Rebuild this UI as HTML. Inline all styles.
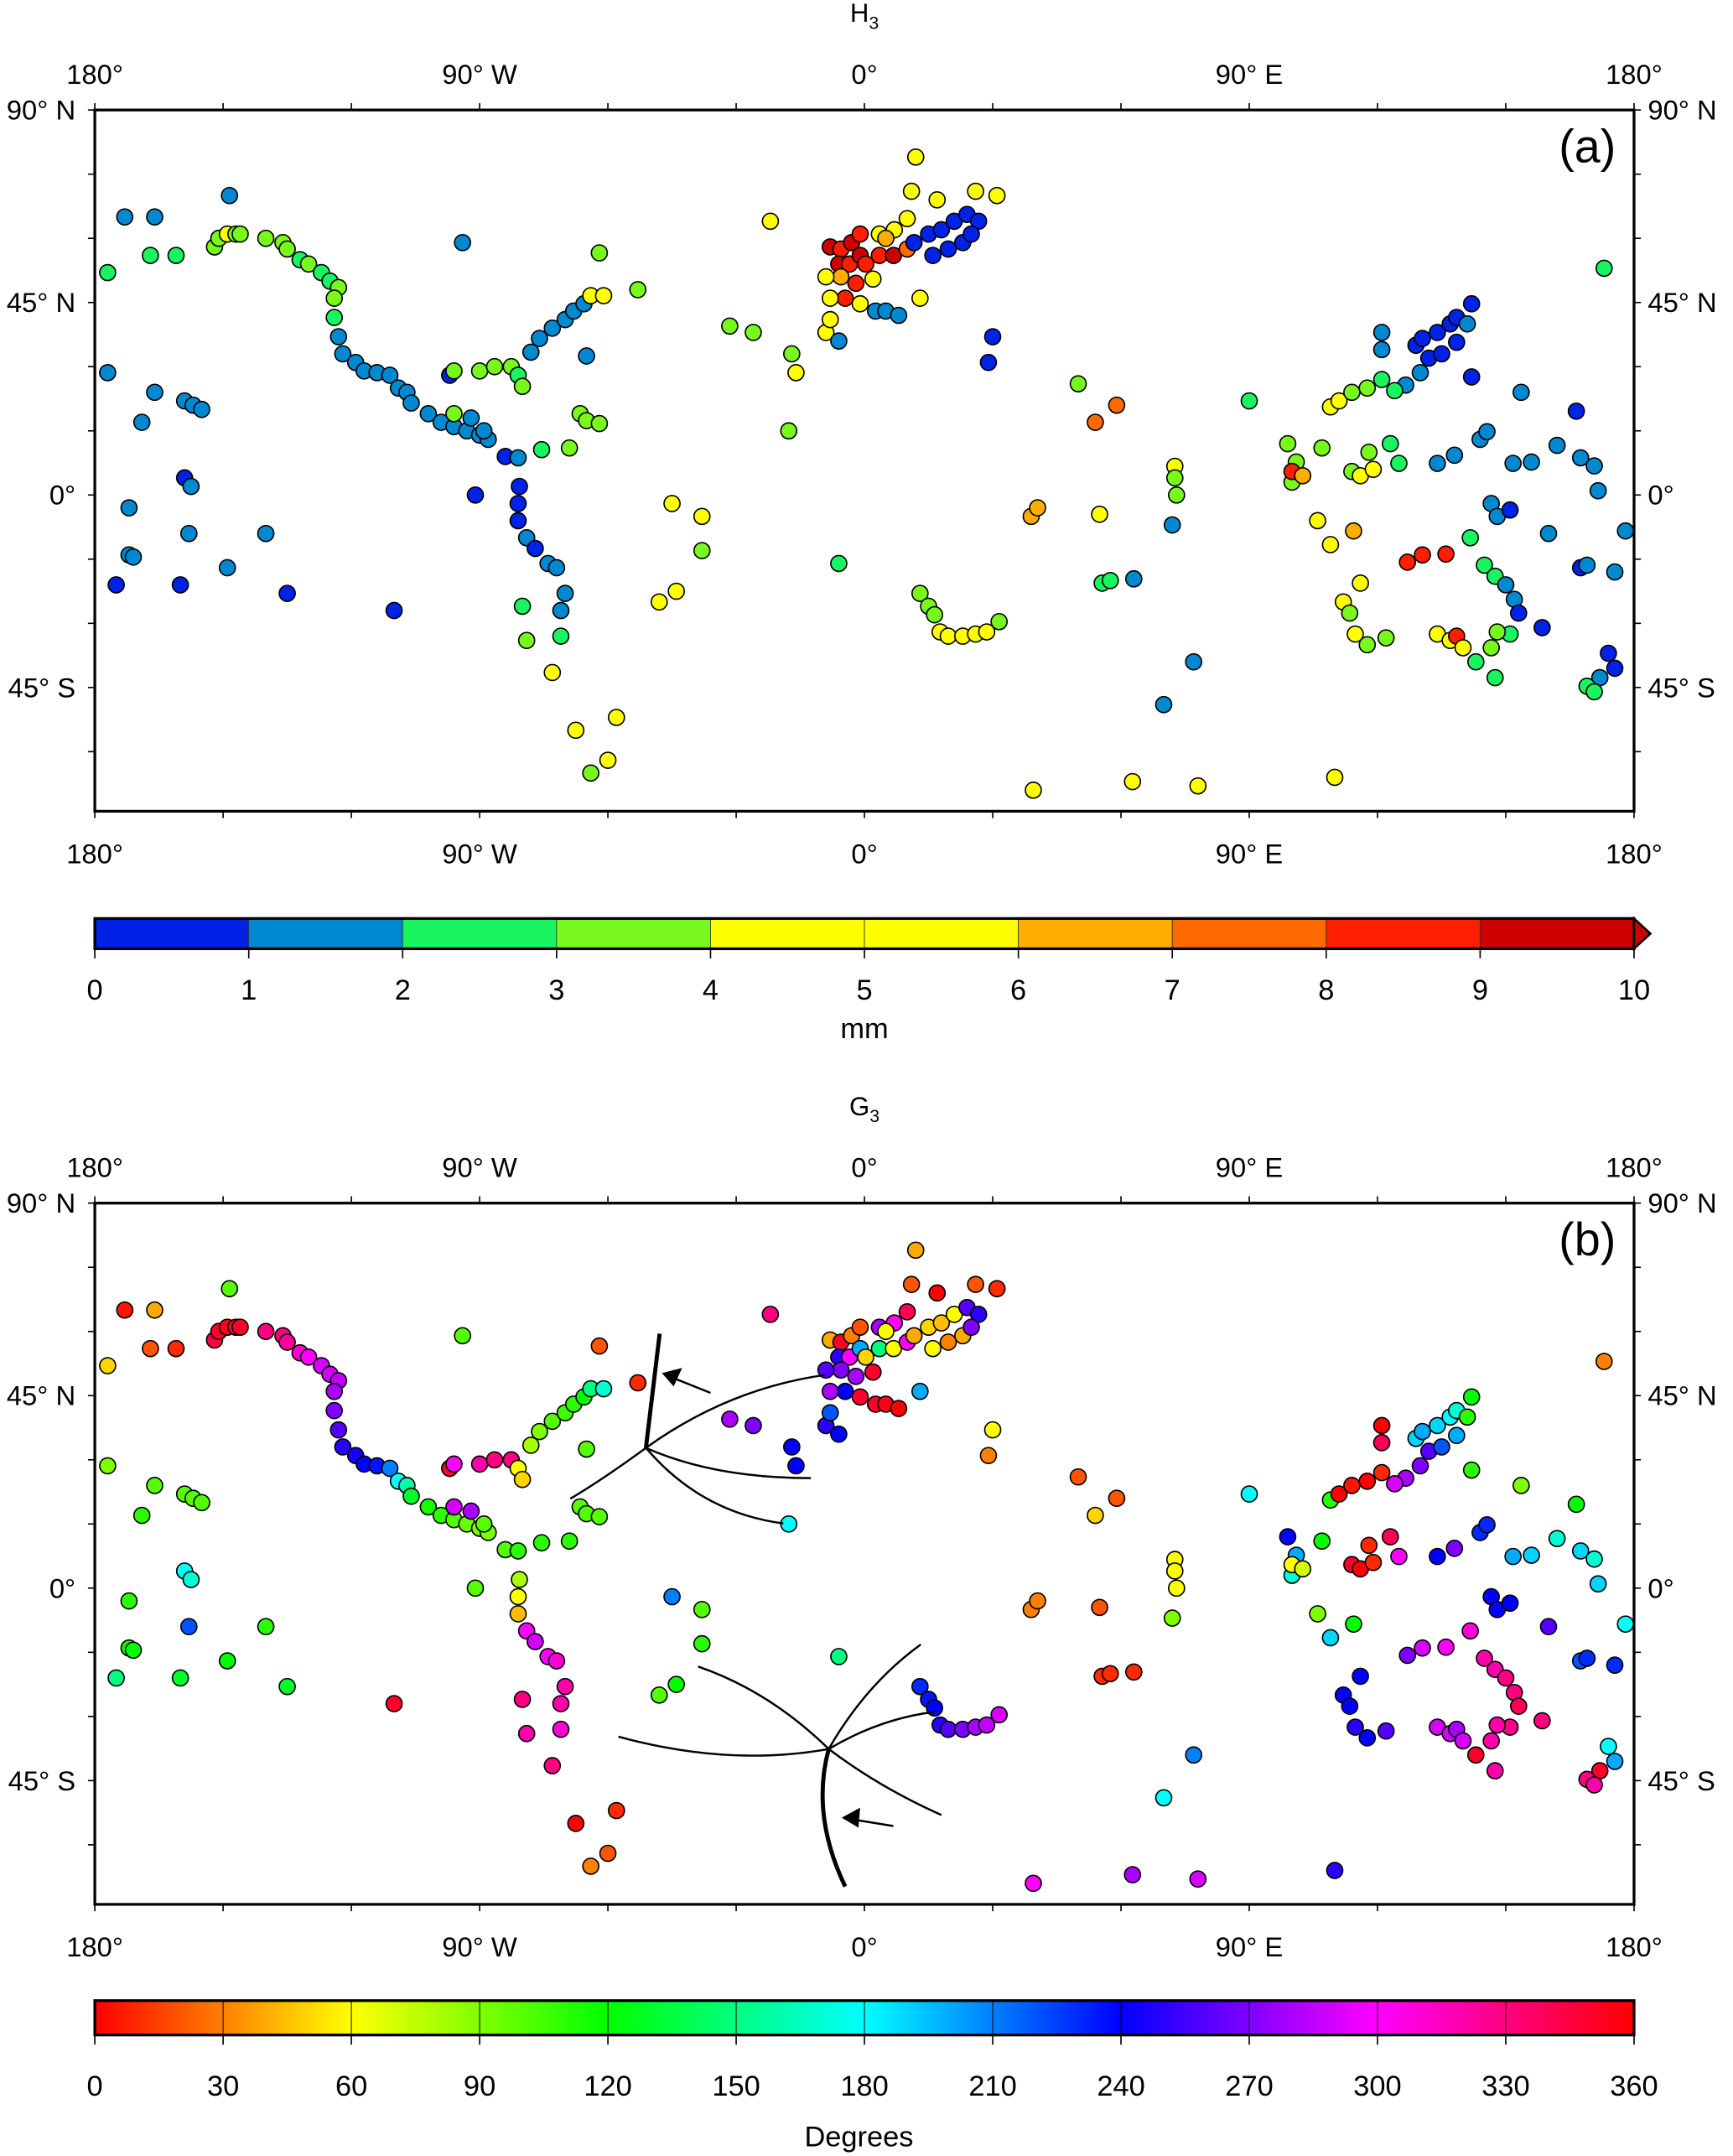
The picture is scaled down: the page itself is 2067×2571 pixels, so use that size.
<!DOCTYPE html>
<html><head><meta charset="utf-8"><title>H3 and G3 maps</title>
<style>
html,body{margin:0;padding:0;background:#fff;}
svg{display:block;font-family:"Liberation Sans",sans-serif;}
</style></head>
<body>
<svg id="chart" width="2067" height="2571" viewBox="0 0 1261 1568" preserveAspectRatio="none" xmlns="http://www.w3.org/2000/svg"></svg>
<script>
// ---- DATA ----
// station rows: [lon, lat, H3 (mm), G3 (deg)]
const stationLon = [];
const stationLat = [];
const h3Values = [];
const g3Values = [];
const stationRows = [
[-177,52,2.5,50],[-173,65,1.5,5],[-166,65,1.5,40],[-167,56,2.5,20],[-161,56,2.5,10],[-148.5,70,1.5,100],
[-177,28.6,1.5,90],[-166,24,1.5,100],[-169,17,1.5,110],[-159,22,1.5,100],[-157,21,1.5,100],[-155,20,1.5,100],
[-159,4,0.5,180],[-157.5,2,1.5,170],[-172,-3,1.5,110],[-158,-9,1.5,220],[-172,-14,1.5,120],[-171,-14.5,1.5,120],
[-175,-21,0.5,150],[-160,-21,0.5,130],[-149,-17,1.5,120],[-140,-9,1.5,110],[-135,-23,0.5,130],[-110,-27,0.5,350],
[-94,59,1.5,100],[-91,0,0.5,100],
[-152,58,3.5,345],[-151,60,3.5,350],[-149,61,4.5,355],[-147,61,3.5,350],[-146,61,3.5,350],[-140,60,3.5,330],
[-136,59,3.5,330],[-135,57.5,3.5,325],[-132,55,2.5,310],[-130,54,3.5,300],[-127,52,2.5,290],[-125,50,2.5,290],[-123,48.5,3.5,285],
[-124,46,3.5,280],[-124,41.5,2.5,270],[-123,37,1.5,260],[-122,33,1.5,250],[-119,31,1.5,245],[-117,29,1.5,240],
[-114,28.6,1.5,235],[-111,28,1.5,210],[-109,25,1.5,180],[-107,24,1.5,160],[-106,21.5,1.5,130],[-102,19,1.5,115],
[-99,17,1.5,110],[-96,16,1.5,100],[-93,15,1.5,95],[-90,14,1.5,90],[-88,13,1.5,90],
[-97,28,0.5,350],[-96,29,3.5,300],[-90,29,3.5,320],[-86.5,30,3.5,330],[-82.6,30,3.5,330],[-81,28,2.5,60],[-80,25.4,3.5,50],
[-78,33.4,1.5,80],[-76,36.6,1.5,90],[-73,39,1.5,100],[-70,41,1.5,105],[-68,43,1.5,110],[-65.6,44.7,1.5,120],
[-64,46.6,4.5,150],[-61,46.6,4.5,170],[-53,48,3.5,10],[-62,56.6,3.5,20],[-65,32.5,1.5,100],
[-96,19,3.5,290],[-92,18,1.5,280],[-89,15,1.5,100],[-84,9,0.5,100],[-81,8.7,1.5,110],[-75.5,10.6,2.5,110],
[-69,11,3.5,110],[-66.5,19,3.5,100],[-65,17.4,3.5,100],[-62,16.7,3.5,100],
[-80.7,2,0.5,80],[-81,-2,0.5,60],[-81,-6,0.5,45],[-79,-10,1.5,300],[-77,-12.5,0.5,290],[-74,-16,1.5,300],
[-72,-17,1.5,310],[-70,-23,1.5,320],[-71,-27,1.5,320],[-80,-26,2.5,330],[-79,-34,3.5,320],[-71,-33,2.5,310],
[-73,-41.5,4.5,330],[-67.5,-55,4.5,0],[-58,-52,4.5,10],[-64,-65,3.5,30],[-60,-62,4.5,20],
[-45,-2,4.5,210],[-38,-5,4.5,100],[-38,-13,3.5,110],[-44,-22.5,4.5,120],[-48,-25,4.5,100],
[-22,64,4.5,330],
[-8,58,9.5,40],[-5.5,57.5,8.5,350],[-3,59,9.5,30],[-6,54,9.5,250],[-3.5,54,8.5,300],[-1,56,9.5,200],
[0.3,54,8.5,50],[3.5,56,8.5,150],[6.8,56,9.5,60],[-5.5,51,6.5,270],[-2,49.5,8.5,280],[-4.5,46,8.5,240],
[-1,61,8.5,20],[10,57.5,7.5,300],[2,50.5,4.5,350],
[-9,51,4.5,260],[-8,46,4.5,280],[-9,38,4.5,250],[-8,41,4.5,220],[-1,44.7,4.5,350],[3.5,61,4.5,280],
[7,62,4.5,300],[10,64.6,4.5,340],[11,71,4.5,20],[17,69,4.5,0],[12,79,4.5,40],[26,71,4.5,20],[31,70,4.5,10],[13,46,4.5,200],
[5,60,6.5,60],
[11.6,59,0.5,40],[15,61,0.5,50],[18,62,0.5,45],[21,64,0.5,60],[24,65.6,0.5,260],[26.7,64,0.5,250],
[23,59,0.5,40],[19.6,57.5,0.5,30],[16,56,0.5,60],[25,61,0.5,270],
[2.6,43,1.5,350],[5,43,1.5,355],[8,42,1.5,0],[-6,36,1.5,240],[30,37,0.5,60],[29,31,0.5,30],
[-31.5,39.5,3.5,280],[-26,38,3.5,270],[-17,33,3.5,240],[-16,28.6,4.5,240],[-17.7,15,3.5,180],[-6,-16,2.5,150],
[13,-23,3.5,230],[15,-26,3.5,235],[16.4,-28,3.5,240],[17.7,-32,4.5,250],[19.6,-33,4.5,260],[23,-33,4.5,270],
[26,-32.5,4.5,280],[28.6,-32,4.5,285],[31.5,-29.6,3.5,290],[39,-5,6.5,30],[40.5,-3,6.5,30],[50,26,3.5,20],
[54,17,7.5,50],[59,21,7.5,20],[55,-4.5,4.5,20],[72.6,6.7,4.5,60],[72.6,4,3.5,60],[73,0,3.5,60],[72,-7,1.5,90],
[55.6,-20.6,2.5,10],[57.5,-20,2.5,10],[63,-19.6,1.5,10],[77,-39,1.5,210],[70,-49,1.5,180],
[39.5,-69,4.5,300],[62.7,-67,4.5,280],[78,-68,4.5,290],[110,-66,4.5,250],
[90,22,2.5,180],[99,12,3.5,240],[101,7.7,3.5,200],[100,3,3.5,170],[100,5.5,8.5,60],[102.5,4.5,6.5,70],
[107,11,3.5,120],[109,20.6,4.5,110],[111,22,4.5,0],[114,24,3.5,5],[117.6,25,3.5,0],[121,27,2.5,10],
[121,34,1.5,340],[121,38,1.5,0],
[129,35,0.5,190],[130.5,36.6,0.5,200],[134,38,0.5,190],[137,40,0.5,180],[138.5,41.5,0.5,170],[142,44.7,0.5,120],
[141,40,1.5,110],[132,32,0.5,260],[135,33,0.5,220],[138.5,35.7,0.5,200],[130,28.6,1.5,270],[126.6,25.7,1.5,280],
[124,24.4,2.5,290],[142,27.6,0.5,110],
[114,5.5,3.5,350],[116,4.5,4.5,0],[119,6,4.5,10],[118,10,3.5,10],[123,12,2.5,340],[125,7.4,2.5,300],
[134,7.4,1.5,240],[138,9.3,1.5,270],[144,13,1.5,230],[145.6,14.8,1.5,230],[153.6,24,1.5,90],[151.7,7.4,1.5,200],
[156,7.7,1.5,190],[162,11.6,1.5,170],[166.5,19.6,0.5,120],[167.5,8.7,1.5,190],[170.7,6.8,1.5,170],[171.6,1,1.5,190],
[178,-8.4,1.5,180],[146.6,-2,1.5,240],[148,-5,1.5,240],[151,-3.5,0.5,240],[160,-9,1.5,260],[167.5,-17,0.5,220],
[175.5,-18,1.5,230],[169,-16.4,1.5,230],
[106,-6,4.5,90],[114.4,-8.4,6.5,120],[109,-11.6,4.5,190],[112,-25,4.5,240],[116,-20.6,4.5,240],
[127,-15.7,8.5,270],[130.5,-14,8.5,290],[136,-13.8,8.5,300],[141.7,-10,2.5,310],[145,-16.4,2.5,320],
[147.5,-19,2.5,320],[150,-21,1.5,330],[152,-24.4,1.5,330],[153,-27.6,0.5,340],[151,-32.5,2.5,330],
[148,-32,3.5,320],[146.6,-35.7,3.5,320],[113.5,-27.6,3.5,240],[114.8,-32.5,4.5,250],[117.6,-35,3.5,240],
[122,-33.4,3.5,260],[134,-32.5,4.5,290],[137,-34,4.5,290],[138.5,-33,8.5,280],[140,-35.7,4.5,290],
[143,-39,2.5,350],[147.5,-42.7,2.5,320],[158.5,-31,0.5,330],[174,-37,0.5,180],[175.5,-40.5,0.5,200],
[172,-42.7,1.5,350],[169,-44.7,2.5,330],[170.7,-46,2.5,320],[173,53,2.5,30]
];
stationRows.forEach(r => { stationLon.push(r[0]); stationLat.push(r[1]); h3Values.push(r[2]); g3Values.push(r[3]); });

const lonTicks = [-180, -90, 0, 90, 180];
const lonTickLabels = ["180°", "90° W", "0°", "90° E", "180°"];
const latTicks = [90, 45, 0, -45];
const latTickLabels = ["90° N", "45° N", "0°", "45° S"];
const mmTicks = [0,1,2,3,4,5,6,7,8,9,10];
const mmBinColors = ["#0022e6","#0088d0","#18f560","#78f81c","#ffff00","#ffff00","#ffad00","#ff6a00","#ff1e00","#cc0000"];
const degTicks = [0,30,60,90,120,150,180,210,240,270,300,330,360];

// ---- LAYOUT ----
const NS = "http://www.w3.org/2000/svg";
const svg = document.getElementById("chart");
const X0 = 69, X1 = 1189;
function xOf(lon){ return X0 + (lon + 180) / 360 * (X1 - X0); }
const PX_PER_DEG = (X1 - X0) / 360;
function mk(tag, attrs, parent){
  const e = document.createElementNS(NS, tag);
  for (const k in attrs) e.setAttribute(k, attrs[k]);
  (parent || svg).appendChild(e);
  return e;
}
function txt(x, y, s, size, anchor, parent){
  const t = mk("text", {x:x, y:y, "font-size":size, "text-anchor":anchor||"middle", fill:"#000"}, parent);
  t.textContent = s;
  return t;
}
function h3Color(v){ const i = Math.max(0, Math.min(9, Math.floor(v))); return mmBinColors[i]; }
function g3Color(v){ return "hsl(" + v + ",100%,50%)"; }

function drawPanel(top, bottom, letter, title, values, colorFn, name){
  const g = mk("g", {});
  
  
  const y90 = top;
  function yOf(lat){ return y90 + (90 - lat) * PX_PER_DEG; }
  // title
  const tt = mk("text", {x:629, y:top-64, "font-size":19, "text-anchor":"middle"}, g);
  
  
  tt.textContent = title[0];
  const sub = mk("tspan", {"font-size":13, dy:5}, tt); sub.textContent = title[1];
  // frame
  const fr = mk("rect", {x:X0, y:top, width:X1-X0, height:bottom-top, fill:"#fff", stroke:"#000", "stroke-width":2}, g);
  
  
  // minor ticks
  for (let lon = -180; lon <= 180; lon += 30){
    mk("line", {x1:xOf(lon), x2:xOf(lon), y1:top, y2:top-5, stroke:"#000", "stroke-width":1}, g);
    mk("line", {x1:xOf(lon), x2:xOf(lon), y1:bottom, y2:bottom+5, stroke:"#000", "stroke-width":1}, g);
  }
  for (let lat = 90; lat >= -70; lat -= 15){
    const y = yOf(lat); if (y > bottom) continue;
    mk("line", {x1:X0, x2:X0-5, y1:y, y2:y, stroke:"#000", "stroke-width":1}, g);
    mk("line", {x1:X1, x2:X1+5, y1:y, y2:y, stroke:"#000", "stroke-width":1}, g);
  }
  lonTicks.forEach((lon, i) => {
    const a = txt(xOf(lon), top-19, lonTickLabels[i], 20, "middle", g);
    
    
    const b = txt(xOf(lon), bottom+38, lonTickLabels[i], 20, "middle", g);
    
    
  });
  latTicks.forEach((lat, i) => {
    const a = txt(X0-14, yOf(lat)+7, latTickLabels[i], 20, "end", g);
    
    
    const b = txt(X1+10, yOf(lat)+7, latTickLabels[i], 20, "start", g);
    
    
  });
  const pl = txt(1155, top+38, letter, 34, "middle", g);
  
  
  // stations
  const pts = mk("g", {}, g);
  
  
  for (let i = 0; i < stationLon.length; i++){
    const c = mk("circle", {cx:xOf(stationLon[i]), cy:yOf(stationLat[i]), r:5.8, fill:colorFn(values[i]), stroke:"#000", "stroke-width":1}, pts);
    
    
  }
  return {g:g, yOf:yOf};
}

const pa = drawPanel(80, 590, "(a)", ["H","3"], h3Values, h3Color, "panel-a-h3-map");
const pb = drawPanel(875, 1385, "(b)", ["G","3"], g3Values, g3Color, "panel-b-g3-map");

// arcs in panel b (arrival-direction schematics)
const arcs = mk("g", {fill:"none", stroke:"#000", "stroke-width":1.5});


["M470 1053 Q440 1075 415 1090","M470 1053 Q530 1010 600 1000","M470 1053 Q520 1075 590 1075","M470 1053 Q510 1100 570 1108",
 "M603 1272 Q530 1285 450 1263","M603 1272 Q560 1230 508 1212","M603 1272 Q630 1225 670 1196","M603 1272 Q640 1250 680 1245","M603 1272 Q640 1300 685 1320"
].forEach(d => mk("path", {d:d}, arcs));
mk("path", {d:"M470 1053 L480 970", "stroke-width":3}, arcs);
mk("path", {d:"M603 1272 Q590 1320 615 1372", "stroke-width":3}, arcs);
mk("path", {d:"M517 1013 L487 1001"}, arcs);
mk("path", {d:"M650 1328 L619 1323"}, arcs);
mk("path", {d:"M483 999 L495 996 L490 1007 Z", fill:"#000"}, arcs);
mk("path", {d:"M614 1322 L625 1316 L624 1328 Z", fill:"#000"}, arcs);

// colorbar a
const cba = mk("g", {});


const CBW = (X1 - X0) / 10;
for (let i = 0; i < 10; i++){
  mk("rect", {x:X0 + i*CBW, y:668, width:CBW, height:22, fill:mmBinColors[i], stroke:"#333", "stroke-width":0.5}, cba);
}
mk("rect", {x:X0, y:668, width:X1-X0, height:22, fill:"none", stroke:"#000", "stroke-width":2}, cba);
mk("path", {d:"M1189 668 L1201 679 L1189 690 Z", fill:"#cc0000", stroke:"#000", "stroke-width":1.5}, cba);
mmTicks.forEach(v => {
  const x = X0 + v * CBW;
  mk("line", {x1:x, x2:x, y1:690, y2:697, stroke:"#000"}, cba);
  const t = txt(x, 727, String(v), 21, "middle", cba);
  
  
});
const mmL = txt(629, 755, "mm", 21, "middle", cba);



// colorbar b
const cbb = mk("g", {});


const defs = mk("defs", {});
const lg = mk("linearGradient", {id:"hue", x1:"0", x2:"1", y1:"0", y2:"0"}, defs);
for (let h = 0; h <= 360; h += 30) mk("stop", {offset:(h/360), "stop-color":"hsl(" + h + ",100%,50%)"}, lg);
mk("rect", {x:X0, y:1455, width:X1-X0, height:25, fill:"url(#hue)"}, cbb);
degTicks.forEach(v => {
  const x = X0 + v / 360 * (X1 - X0);
  mk("line", {x1:x, x2:x, y1:1455, y2:1487, stroke:"#000", "stroke-width":(v===0||v===360)?0:0.6}, cbb);
  mk("line", {x1:x, x2:x, y1:1480, y2:1487, stroke:"#000"}, cbb);
  const t = txt(x, 1524, String(v), 21, "middle", cbb);
  
  
});
mk("rect", {x:X0, y:1455, width:X1-X0, height:25, fill:"none", stroke:"#000", "stroke-width":2}, cbb);
const dgL = txt(625, 1561, "Degrees", 21, "middle", cbb);


</script>
</body></html>
